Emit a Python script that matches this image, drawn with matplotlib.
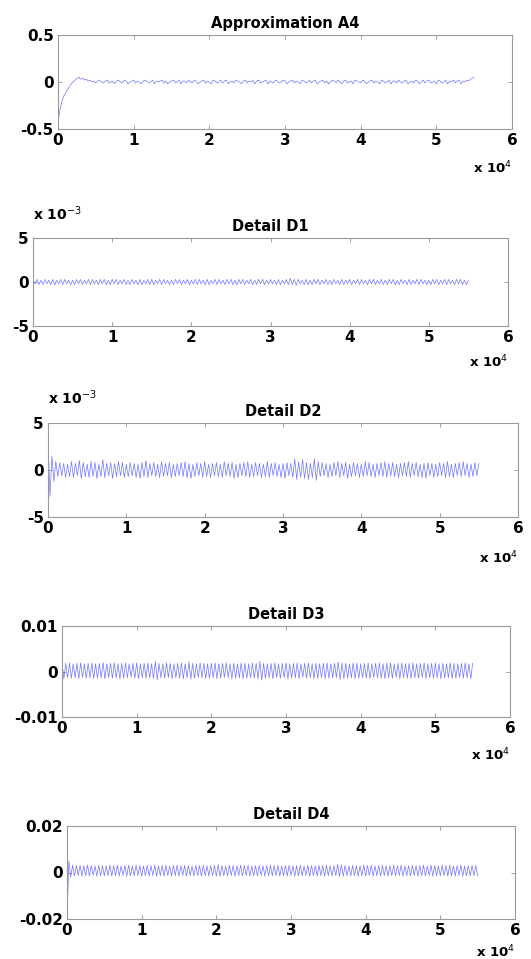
import numpy as np
import matplotlib
matplotlib.use("Agg")
import matplotlib.pyplot as plt

# one value every 250 samples, 0 .. 55000
step = 250

titles = ["Approximation A4", "Detail D1", "Detail D2", "Detail D3", "Detail D4"]

a4 = [-0.42, -0.30, -0.21, -0.15, -0.12, -0.08, -0.05, -0.02, 0.00, 0.02, 0.04, 0.05, 0.03, 0.04, 0.02, 0.03, 0.01, 0.02, 0.00, 0.01,
      -0.01, 0.01, 0.02, 0.00, -0.01, 0.01, 0.02, -0.01, 0.00, 0.01, -0.02, 0.01, 0.02, 0.00, -0.01, 0.02, 0.01, -0.02, 0.00, 0.01,
      0.02, -0.01, 0.01, 0.00, -0.02, 0.01, 0.02, 0.01, -0.01, 0.00, 0.02, -0.02, 0.01, 0.00, 0.01, 0.02, -0.01, 0.01, -0.02, 0.00,
      0.01, 0.02, -0.01, 0.00, 0.02, -0.02, 0.01, 0.01, -0.01, 0.02, 0.00, -0.01, 0.02, 0.01, -0.02, 0.00, 0.01, 0.02, -0.01, 0.01,
      0.00, -0.02, 0.02, 0.01, -0.01, 0.00, 0.02, -0.01, 0.01, 0.02, -0.02, 0.00, 0.01, -0.01, 0.02, 0.01, 0.00, -0.02, 0.01, 0.02,
      -0.01, 0.01, 0.00, 0.02, -0.02, 0.01, 0.02, -0.01, 0.00, 0.01, 0.02, -0.02, 0.01, 0.00, -0.01, 0.02, 0.01, -0.01, 0.00, 0.02,
      0.01, -0.02, 0.00, 0.01, 0.02, -0.01, 0.01, 0.00, -0.02, 0.02, 0.01, -0.01, 0.00, 0.02, -0.01, 0.01, 0.02, -0.02, 0.00, 0.01,
      0.02, -0.01, 0.01, -0.02, 0.00, 0.02, 0.01, -0.01, 0.02, 0.00, -0.02, 0.01, 0.02, -0.01, 0.00, 0.01, -0.02, 0.02, 0.01, 0.00,
      -0.01, 0.02, 0.01, -0.02, 0.00, 0.01, 0.02, -0.01, 0.01, 0.00, -0.02, 0.02, 0.01, -0.01, 0.00, 0.02, -0.02, 0.01, 0.01, -0.01,
      0.02, 0.00, -0.01, 0.01, 0.02, -0.02, 0.00, 0.01, -0.01, 0.02, 0.01, -0.02, 0.00, 0.02, -0.01, 0.01, 0.02, -0.01, 0.00, 0.01,
      -0.02, 0.02, 0.01, -0.01, 0.00, 0.02, -0.02, 0.01, 0.00, 0.02, -0.01, 0.01, 0.02, -0.02, 0.01, 0.00, 0.02, 0.01, 0.03, 0.04,
      0.05]

# detail values in units of 1e-3
d1_milli = [0.3, -0.2, 0.3, -0.3, 0.2, -0.3, 0.3, -0.2, 0.2, -0.3, 0.3, -0.3, 0.2, -0.2, 0.3, -0.3, 0.3, -0.2, 0.2, -0.3,
            0.2, -0.3, 0.3, -0.2, 0.3, -0.3, 0.2, -0.2, 0.3, -0.3, 0.3, -0.2, 0.2, -0.3, 0.3, -0.2, 0.3, -0.3, 0.2, -0.3,
            0.3, -0.2, 0.3, -0.3, 0.2, -0.2, 0.3, -0.3, 0.2, -0.3, 0.3, -0.2, 0.2, -0.3, 0.3, -0.3, 0.2, -0.2, 0.3, -0.3,
            0.3, -0.3, 0.2, -0.2, 0.3, -0.3, 0.3, -0.2, 0.2, -0.3, 0.2, -0.3, 0.3, -0.2, 0.3, -0.3, 0.2, -0.2, 0.3, -0.3,
            0.2, -0.2, 0.3, -0.3, 0.3, -0.2, 0.2, -0.3, 0.3, -0.3, 0.2, -0.2, 0.3, -0.3, 0.3, -0.2, 0.2, -0.3, 0.3, -0.2,
            0.3, -0.3, 0.2, -0.3, 0.3, -0.2, 0.3, -0.3, 0.2, -0.2, 0.3, -0.3, 0.2, -0.3, 0.3, -0.2, 0.3, -0.3, 0.2, -0.2,
            0.3, -0.2, 0.2, -0.3, 0.3, -0.3, 0.2, -0.2, 0.3, -0.3, 0.4, -0.3, 0.3, -0.4, 0.3, -0.2, 0.2, -0.3, 0.3, -0.3,
            0.2, -0.3, 0.3, -0.2, 0.3, -0.3, 0.2, -0.2, 0.3, -0.3, 0.2, -0.3, 0.3, -0.2, 0.2, -0.3, 0.3, -0.3, 0.2, -0.2,
            0.3, -0.3, 0.2, -0.2, 0.3, -0.3, 0.3, -0.2, 0.2, -0.3, 0.3, -0.2, 0.3, -0.3, 0.2, -0.2, 0.3, -0.3, 0.2, -0.3,
            0.3, -0.2, 0.3, -0.3, 0.2, -0.3, 0.3, -0.2, 0.2, -0.3, 0.3, -0.3, 0.2, -0.2, 0.3, -0.3, 0.3, -0.2, 0.2, -0.3,
            0.2, -0.3, 0.3, -0.2, 0.3, -0.3, 0.2, -0.2, 0.3, -0.3, 0.3, -0.2, 0.2, -0.3, 0.3, -0.2, 0.3, -0.3, 0.2, -0.3,
            0.2]

d2_milli = [3.0, -2.8, 1.5, -1.2, 0.9, -0.7, 0.8, -0.6, 0.7, -0.8, 0.6, -0.7, 0.9, -0.8, 0.7, -0.6, 1.0, -0.9, 0.8, -0.7,
            0.6, -0.8, 0.9, -0.7, 0.8, -0.9, 0.6, -0.7, 1.1, -0.8, 0.7, -0.6, 0.8, -0.9, 0.7, -0.7, 0.9, -0.6, 0.8, -0.8,
            0.6, -0.7, 0.8, -0.6, 0.7, -0.8, 0.6, -0.9, 0.8, -0.7, 1.0, -0.8, 0.7, -0.6, 0.8, -0.7, 0.6, -0.8, 0.9, -0.7,
            0.7, -0.6, 0.8, -0.8, 0.6, -0.7, 0.7, -0.6, 0.8, -0.7, 0.9, -0.8, 0.7, -0.9, 0.6, -0.7, 0.8, -0.6, 0.7, -0.8,
            0.9, -0.7, 0.6, -0.8, 0.7, -0.6, 0.8, -0.7, 0.6, -0.8, 0.9, -0.6, 0.7, -0.7, 0.8, -0.9, 0.6, -0.8, 0.7, -0.6,
            0.8, -0.7, 0.9, -0.8, 0.6, -0.7, 0.8, -0.6, 0.7, -0.8, 0.6, -0.7, 0.9, -0.8, 0.7, -0.6, 0.8, -0.7, 0.6, -0.8,
            0.7, -0.9, 0.8, -0.6, 0.7, -0.8, 1.2, -1.0, 0.9, -0.8, 1.1, -0.9, 0.8, -1.0, 0.7, -0.8, 1.2, -1.1, 0.9, -0.7,
            0.8, -0.6, 0.7, -0.8, 0.6, -0.7, 0.8, -0.6, 0.9, -0.8, 0.7, -0.6, 0.8, -0.9, 0.6, -0.7, 0.8, -0.6, 0.7, -0.8,
            0.6, -0.7, 0.9, -0.6, 0.8, -0.7, 0.6, -0.8, 0.7, -0.6, 0.8, -0.7, 0.9, -0.8, 0.7, -0.6, 0.8, -0.7, 0.6, -0.8,
            0.7, -0.6, 0.8, -0.7, 0.9, -0.8, 0.7, -0.6, 0.8, -0.7, 0.6, -0.8, 0.7, -0.9, 0.8, -0.6, 0.7, -0.8, 0.6, -0.7,
            0.8, -0.6, 0.7, -0.8, 0.9, -0.7, 0.6, -0.8, 0.7, -0.6, 0.8, -0.7, 0.9, -0.6, 0.7, -0.8, 0.6, -0.7, 0.8, -0.6,
            0.7]

d3_milli = [2.0, -1.6, 1.8, -1.4, 1.9, -1.5, 1.7, -1.4, 1.8, -1.6, 1.9, -1.3, 1.7, -1.5, 1.8, -1.4, 1.9, -1.6, 1.7, -1.5,
            1.8, -1.4, 2.0, -1.6, 1.7, -1.3, 1.8, -1.5, 1.9, -1.4, 1.7, -1.6, 1.8, -1.5, 1.9, -1.4, 1.7, -1.3, 1.8, -1.5,
            1.9, -1.6, 1.7, -1.4, 1.8, -1.5, 1.9, -1.4, 1.7, -1.6, 2.2, -1.8, 1.8, -1.4, 1.7, -1.5, 1.9, -1.3, 1.8, -1.6,
            1.7, -1.4, 1.8, -1.5, 1.9, -1.6, 1.7, -1.4, 2.1, -1.7, 1.8, -1.5, 1.7, -1.3, 1.9, -1.4, 1.8, -1.6, 1.7, -1.5,
            1.8, -1.4, 1.9, -1.6, 1.7, -1.5, 1.8, -1.3, 1.9, -1.4, 1.7, -1.6, 1.8, -1.5, 1.7, -1.4, 1.9, -1.6, 1.8, -1.5,
            1.7, -1.4, 1.9, -1.5, 1.8, -1.6, 2.2, -1.9, 1.8, -1.5, 1.7, -1.4, 1.8, -1.6, 1.9, -1.3, 1.7, -1.5, 1.8, -1.4,
            1.9, -1.6, 1.7, -1.5, 1.8, -1.4, 1.9, -1.6, 1.7, -1.3, 1.8, -1.5, 1.9, -1.4, 1.7, -1.6, 1.8, -1.5, 1.7, -1.4,
            1.8, -1.6, 1.9, -1.5, 1.7, -1.4, 1.8, -1.3, 2.1, -1.8, 1.9, -1.6, 1.8, -1.5, 1.7, -1.4, 1.9, -1.6, 1.8, -1.5,
            1.7, -1.4, 1.8, -1.5, 1.9, -1.6, 1.7, -1.3, 1.8, -1.4, 1.9, -1.5, 1.7, -1.6, 1.8, -1.4, 1.9, -1.5, 1.7, -1.3,
            1.8, -1.6, 1.9, -1.4, 1.7, -1.5, 1.8, -1.6, 1.9, -1.4, 1.7, -1.5, 1.8, -1.3, 1.9, -1.6, 1.7, -1.4, 1.8, -1.5,
            1.9, -1.4, 1.7, -1.6, 1.8, -1.5, 1.7, -1.4, 1.9, -1.6, 1.8, -1.5, 1.7, -1.3, 1.8, -1.5, 1.9, -1.4, 1.7, -1.6,
            1.8]

d4_milli = [-20.0, 5.0, -2.0, 3.2, -1.5, 3.0, -1.3, 3.1, -1.6, 2.9, -1.4, 3.2, -1.5, 3.0, -1.2, 2.8, -1.6, 3.1, -1.4, 3.0,
            -1.5, 2.9, -1.3, 3.2, -1.6, 3.0, -1.4, 3.1, -1.5, 2.8, -1.3, 3.0, -1.6, 3.2, -1.4, 2.9, -1.5, 3.1, -1.3, 3.0,
            -1.6, 2.8, -1.4, 3.1, -1.5, 3.0, -1.3, 3.2, -1.6, 2.9, -1.4, 3.0, -1.5, 3.1, -1.3, 2.8, -1.6, 3.0, -1.4, 3.2,
            -1.5, 2.9, -1.3, 3.1, -1.6, 3.0, -1.4, 2.8, -1.5, 3.1, -1.3, 3.0, -1.6, 3.2, -1.4, 2.9, -1.5, 3.0, -1.3, 3.1,
            -1.6, 3.4, -1.7, 3.0, -1.4, 2.8, -1.5, 3.1, -1.3, 3.0, -1.6, 2.9, -1.4, 3.2, -1.5, 3.0, -1.3, 3.1, -1.6, 2.8,
            -1.4, 3.0, -1.5, 3.1, -1.3, 2.9, -1.6, 3.0, -1.4, 3.2, -1.5, 3.0, -1.3, 3.1, -1.6, 2.8, -1.4, 3.0, -1.5, 3.1,
            -1.3, 2.9, -1.6, 3.0, -1.4, 3.2, -1.5, 2.8, -1.3, 3.1, -1.6, 3.0, -1.4, 2.9, -1.5, 3.1, -1.3, 3.0, -1.6, 3.2,
            -1.4, 2.9, -1.5, 3.0, -1.3, 3.5, -1.8, 3.3, -1.6, 3.0, -1.4, 2.8, -1.5, 3.1, -1.3, 3.0, -1.6, 2.9, -1.4, 3.2,
            -1.5, 3.0, -1.3, 3.1, -1.6, 2.8, -1.4, 3.0, -1.5, 3.1, -1.3, 2.9, -1.6, 3.0, -1.4, 3.2, -1.5, 3.0, -1.3, 3.1,
            -1.6, 2.8, -1.4, 3.0, -1.5, 3.1, -1.3, 2.9, -1.6, 3.0, -1.4, 3.2, -1.5, 2.8, -1.3, 3.1, -1.6, 3.0, -1.4, 2.9,
            -1.5, 3.1, -1.3, 3.0, -1.6, 3.2, -1.4, 2.9, -1.5, 3.0, -1.3, 3.1, -1.6, 2.8, -1.4, 3.0, -1.5, 3.1, -1.3, 3.0,
            -1.4]

x_ticks = [0, 10000, 20000, 30000, 40000, 50000, 60000]
x_ticklabels = ["0", "1", "2", "3", "4", "5", "6"]

y_ticks = [[-0.5, 0, 0.5], [-5e-3, 0, 5e-3], [-5e-3, 0, 5e-3], [-0.01, 0, 0.01], [-0.02, 0, 0.02]]
y_ticklabels = [["-0.5", "0", "0.5"], ["-5", "0", "5"], ["-5", "0", "5"],
                ["-0.01", "0", "0.01"], ["-0.02", "0", "0.02"]]
y_exponent = [None, r"x 10$^{-3}$", r"x 10$^{-3}$", None, None]

series = [np.array(a4),
          np.array(d1_milli) * 1e-3,
          np.array(d2_milli) * 1e-3,
          np.array(d3_milli) * 1e-3,
          np.array(d4_milli) * 1e-3]

W, H = 531, 959
# pixel boxes: left, right, top, bottom
boxes = [(58, 512, 35, 129), (33, 508, 238, 326), (48, 518, 423, 517),
         (62, 510, 626, 717), (67, 515, 826, 919)]
xlab_offset = [39, 36, 41, 38, 33]   # px below axes bottom for "x 10^4"

plt.rcParams['font.family'] = ['DejaVu Sans']
fig = plt.figure(figsize=(W / 100, H / 100), dpi=100)
fig.patch.set_facecolor('white')

fs = 11
for i, (l, r, t, b) in enumerate(boxes):
    ax = fig.add_axes([l / W, (H - b) / H, (r - l) / W, (b - t) / H])
    y = series[i]
    x = np.arange(len(y)) * step
    ax.plot(x, y, color='#4646ff', lw=0.5, alpha=0.75)
    ax.set_xlim(0, 60000)
    ax.set_ylim(y_ticks[i][0], y_ticks[i][-1])
    ax.set_xticks(x_ticks)
    ax.set_xticklabels(x_ticklabels, fontsize=fs, fontweight='bold')
    ax.set_yticks(y_ticks[i])
    ax.set_yticklabels(y_ticklabels[i], fontsize=fs, fontweight='bold')
    ax.tick_params(direction='in', length=3, width=0.6, color='#909090',
                   top=True, right=True, pad=3)
    for s in ax.spines.values():
        s.set_color('#9a9a9a')
        s.set_linewidth(0.8)
    ax.set_title(titles[i], fontsize=10.5, fontweight='bold', pad=5)
    fig.text(r / W, 1 - (b + xlab_offset[i]) / H, r"x 10$^{4}$", ha='right',
             va='center', fontsize=9.5, fontweight='bold')
    if y_exponent[i]:
        ax.text(0.0, 1.17, y_exponent[i], transform=ax.transAxes, ha='left',
                va='bottom', fontsize=10, fontweight='bold')

fig.savefig('out.png', dpi=100, facecolor='white')
